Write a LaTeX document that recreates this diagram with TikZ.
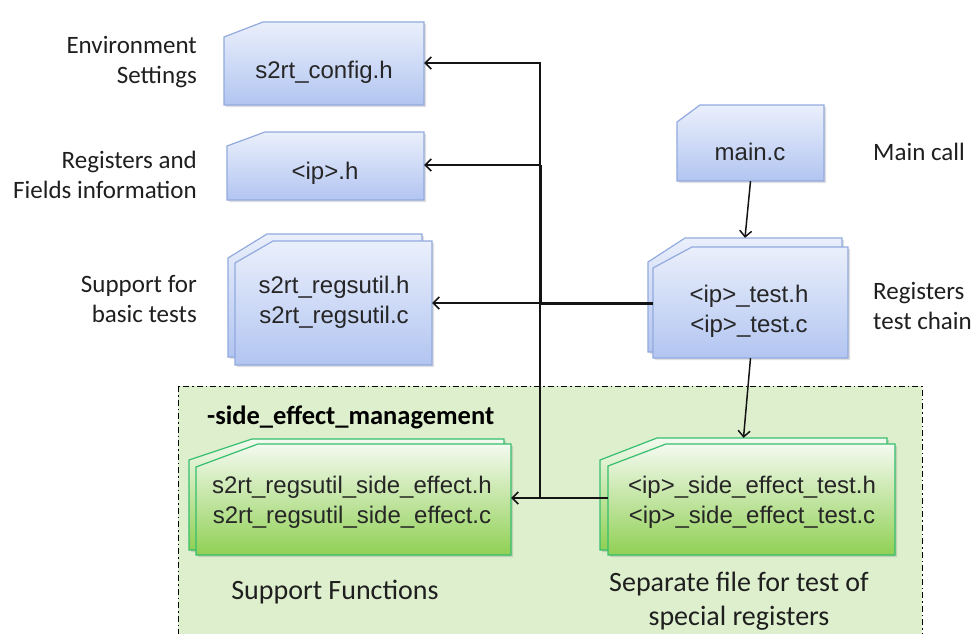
\documentclass[tikz,border=0pt]{standalone}
\usepackage{fontspec}
\setmainfont{Liberation Sans}
\newfontfamily\labelfont{Carlito}
\usetikzlibrary{arrows.meta}

\definecolor{blueTop}{RGB}{234,239,251}
\definecolor{blueBot}{RGB}{178,197,241}
\definecolor{blueEdge}{RGB}{146,170,222}
\definecolor{greenTop}{RGB}{244,250,240}
\definecolor{greenBot}{RGB}{144,208,84}
\definecolor{greenEdge}{RGB}{52,190,110}
\definecolor{zoneFill}{RGB}{222,239,205}
\definecolor{wire}{RGB}{20,20,20}

\tikzset{
  bluecard/.style={top color=blueTop, bottom color=blueBot, draw=blueEdge, line width=1.2pt},
  greencard/.style={top color=greenTop, bottom color=greenBot, draw=greenEdge, line width=1.2pt},
  cardshadow/.style={fill=black, opacity=0.12},
  cardtext/.style={font=\fontsize{24}{30}\selectfont, align=center, text=black!85, inner sep=0pt},
  note/.style={font=\labelfont\fontsize{25}{29.5}\selectfont, text=black!88, inner sep=0pt},
  bignote/.style={font=\labelfont\fontsize{28}{34}\selectfont, text=black!88, inner sep=0pt},
  link/.style={draw=wire, line width=1.5pt, -{Straight Barb[length=6pt,width=12pt,line width=1.5pt]}},
  plain/.style={draw=wire, line width=1.5pt},
  heavy/.style={draw=wire, line width=3pt},
}

% file card with a cut top-left corner:
% #1 style, #2 node name, #3..#6 = x1,y1,x2,y2, #7 cut width, #8 cut height
\newcommand{\filecard}[8]{%
  \fill[cardshadow] ({#3+2},{#4+#8+2}) -- ({#3+#7+2},{#4+2}) -- ({#5+2},{#4+2})
      -- ({#5+2},{#6+2}) -- ({#3+2},{#6+2}) -- cycle;
  \shade[#1] ({#3},{#4+#8}) -- ({#3+#7},{#4}) -- ({#5},{#4}) -- ({#5},{#6})
      -- ({#3},{#6}) -- cycle;
  \node[inner sep=0pt, minimum width={(#5-#3)*1pt}, minimum height={(#6-#4)*1pt}]
      (#2) at ({(#3+#5)/2},{(#4+#6)/2}) {};
}

\begin{document}
\begin{tikzpicture}[x=1pt, y=-1pt]
\useasboundingbox (0,0) rectangle (974,634);
\fill[white] (0,0) rectangle (974,634);

% side-effect zone
\path[fill=zoneFill, draw=black, line width=1pt,
      dash pattern=on 6pt off 3pt on 1.5pt off 3pt]
  (178,386) rectangle (922,660);
\node[font=\labelfont\bfseries\fontsize{26.5}{30}\selectfont, anchor=west, inner sep=0pt]
  (zonetitle) at (207,417) {-side\_effect\_management};

% blue cards
\filecard{bluecard}{config}{224}{22}{424}{105}{39}{15}
\node[cardtext] (configtxt) at (324,72) {s2rt\_config.h};

\filecard{bluecard}{iph}{227}{132}{424}{200}{38}{14}
\node[cardtext] (iphtxt) at (325,173) {<ip>.h};

\filecard{bluecard}{regsback}{228}{234}{422}{357}{39}{24}
\filecard{bluecard}{regs}{235}{241}{432}{365}{38}{22}
\node[cardtext] (regstxt) at (334,302) {s2rt\_regsutil.h\\s2rt\_regsutil.c};

\filecard{bluecard}{mainc}{677}{105}{824}{181}{23}{17}
\node[cardtext] (maintxt) at (750,152) {main.c};

\filecard{bluecard}{testback}{648}{238}{842}{352}{37}{24}
\filecard{bluecard}{test}{653}{247}{848}{358}{39}{21}
\node[cardtext] (testtxt) at (749,311) {<ip>\_test.h\\<ip>\_test.c};

% green cards
\filecard{greencard}{seuback}{189}{439}{504}{550}{63}{21}
\filecard{greencard}{seu}{196}{444}{511}{555}{62}{23}
\node[cardtext] (seutxt) at (352,502) {s2rt\_regsutil\_side\_effect.h\\s2rt\_regsutil\_side\_effect.c};

\filecard{greencard}{setback}{600}{438}{887}{550}{57}{22}
\filecard{greencard}{set}{608}{444}{895}{555}{58}{22}
\node[cardtext] (settxt) at (752,502) {<ip>\_side\_effect\_test.h\\<ip>\_side\_effect\_test.c};

% side labels
\node[note, anchor=east, align=right] (envlbl) at (197,62) {Environment\\Settings};
\node[note, anchor=east, align=right] (reglbl) at (197,175) {Registers and\\Fields information};
\node[note, anchor=east, align=right] (suplbl) at (197,299) {Support for\\basic tests};
\node[note, anchor=west] (mainlbl) at (873,152) {Main call};
\node[note, anchor=west, align=left] (chainlbl) at (873,306) {Registers\\test chain};
\node[bignote] (funlbl) at (335,592) {Support Functions};
\node[bignote, align=center] (seplbl) at (739,601) {Separate file for test of\\special registers};

% connectors
\coordinate (bus) at (540,498);
\coordinate (busip) at (540,165);
\coordinate (busreg) at (540,303);
\draw[plain] (set.west |- bus) -- (bus);
\draw[link] (bus) |- (config.east |- 0,63);
\draw[link] (bus) -- (seu.east |- bus);
\draw[heavy] (busip) -- (busreg);
\draw[link] (busip) -- (iph.east |- busip);
\draw[heavy] (test.west |- busreg) -- (busreg);
\draw[link] (busreg) -- (regs.east |- busreg);
\draw[link] (mainc.south) -- (testback.north);
\draw[link] (test.south) -- (setback.north);
\end{tikzpicture}
\end{document}
